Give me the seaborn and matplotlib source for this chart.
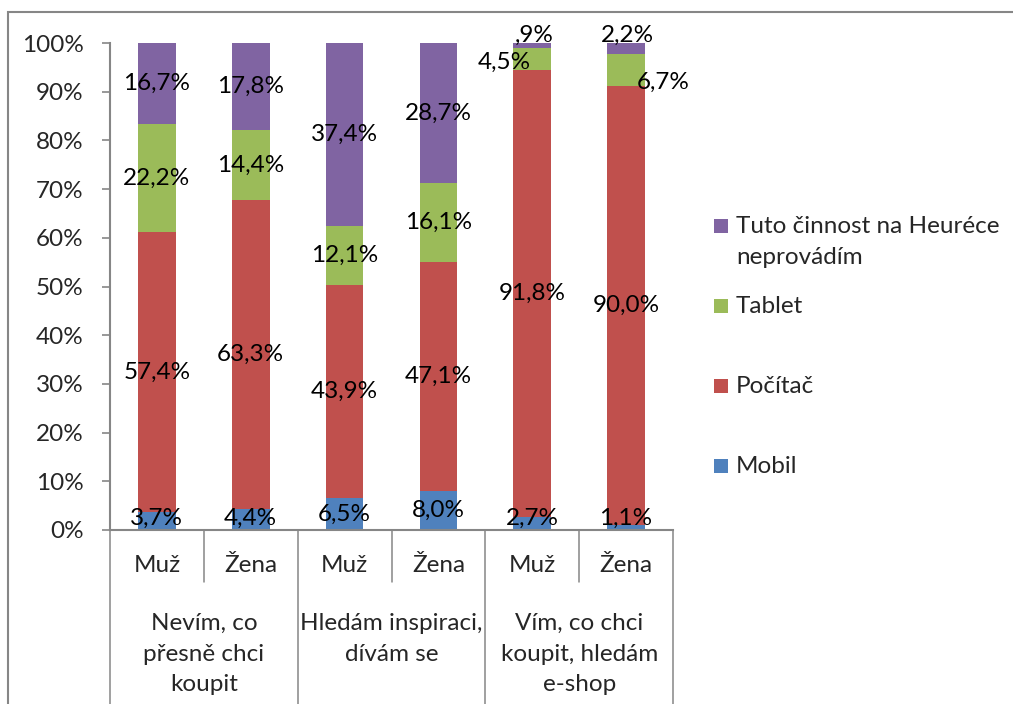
import pandas as pd
import matplotlib
matplotlib.use('Agg')
import matplotlib.pyplot as plt
from matplotlib.patches import Rectangle
import seaborn as sns

# data (percent)
pohlavi = ['Muž', 'Žena', 'Muž', 'Žena', 'Muž', 'Žena']
skupiny = ['Nevím, co\npřesně chci\nkoupit', 'Hledám inspiraci,\ndívám se', 'Vím, co chci\nkoupit, hledám\ne-shop']
mobil = [3.7, 4.4, 6.5, 8.0, 2.7, 1.1]
pocitac = [57.4, 63.3, 43.9, 47.1, 91.8, 90.0]
tablet = [22.2, 14.4, 12.1, 16.1, 4.5, 6.7]
neprovadim = [16.7, 17.8, 37.4, 28.7, 0.9, 2.2]
serie = ['Mobil', 'Počítač', 'Tablet', 'Tuto činnost na Heuréce\nneprovádím']
barvy = ['#4F81BD', '#C0504D', '#9BBB59', '#8064A2']

sns.set_style('white')
plt.rcParams['font.family'] = ['Lato', 'DejaVu Sans']
FS = 17.5
GRAY = '#868686'

rows = []
for s, vals in zip(serie, [mobil, pocitac, tablet, neprovadim]):
    for i, v in enumerate(vals):
        rows.append({'bar': str(i), 'serie': s, 'value': v})
df = pd.DataFrame(rows)
df['cum'] = df.groupby('bar')['value'].cumsum()
df['mid'] = df['cum'] - df['value'] / 2

fig = plt.figure(figsize=(10.13, 7.04), dpi=100)
ax = fig.add_axes([110 / 1013, 1 - 530 / 704, 563 / 1013, 487 / 704])

# stacked bars: draw cumulative totals from the top series down
for s, c in reversed(list(zip(serie, barvy))):
    sns.barplot(data=df[df['serie'] == s], x='bar', y='cum', color=c,
                width=0.4, errorbar=None, linewidth=0, saturation=1, ax=ax)

# label positions that were moved by hand in the original
posun = {(2, 4): (3.70, 96.1), (3, 4): (4.02, 101.6),
         (2, 5): (5.40, 92.0), (3, 5): (5.01, 101.6)}
for si, s in enumerate(serie):
    sub = df[df['serie'] == s].reset_index(drop=True)
    for i, r in sub.iterrows():
        txt = f"{r['value']:.1f}".replace('.', ',')
        if txt.startswith('0'):
            txt = txt[1:]
        x, y = posun.get((si, i), (i, max(r['mid'], 2.4)))
        ax.text(x, y, txt + '%', ha='center', va='center', fontsize=FS, color='black', clip_on=False)

ax.set_xlim(-0.5, 5.5)
ax.set_ylim(0, 100)
ax.set_yticks(range(0, 101, 10))
ax.set_yticklabels([f'{v}%' for v in range(0, 101, 10)], fontsize=FS)
ax.tick_params(axis='y', length=6, width=1.2, color=GRAY, pad=13, left=True)
ax.set_xticks([])
ax.set_xlabel('')
ax.set_ylabel('')
for side in ['top', 'right']:
    ax.spines[side].set_visible(False)
for side in ['left', 'bottom']:
    ax.spines[side].set_color(GRAY)
    ax.spines[side].set_linewidth(1.5)

# multi-level category axis
tr = ax.get_xaxis_transform()
for i, p in enumerate(pohlavi):
    ax.text(i, -0.072, p, transform=tr, ha='center', va='center', fontsize=FS)
for g, lab in enumerate(skupiny):
    ax.text(2 * g + 0.5, -0.171, lab, transform=tr, ha='center', va='top',
            fontsize=FS, linespacing=1.56)
for x in [0.5, 2.5, 4.5]:
    ax.plot([x, x], [0, -0.107], transform=tr, color=GRAY, lw=1.1, clip_on=False)
for x in [-0.5, 1.5, 3.5, 5.5]:
    ax.plot([x, x], [0, -0.36], transform=tr, color=GRAY, lw=1.1, clip_on=False)

# legend drawn by hand (square aligned with first text line)
leg_y = [466, 386, 306, 226]
for s, c, y in zip(serie, barvy, leg_y):
    fig.add_artist(Rectangle((714 / 1013, 1 - (y + 7) / 704), 14 / 1013, 14 / 704,
                             transform=fig.transFigure, color=c, lw=0))
    fig.text(736 / 1013, 1 - (y - 10) / 704, s, ha='left', va='top', fontsize=FS, linespacing=1.61)

# chart area border
fig.add_artist(Rectangle((8 / 1013, -0.05), 1.1, 1.05 - 12 / 704, transform=fig.transFigure,
                         fill=False, edgecolor=GRAY, lw=1.5))

fig.savefig('out.png', dpi=100)
